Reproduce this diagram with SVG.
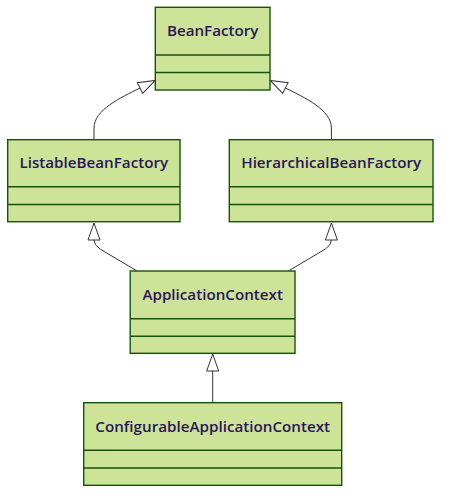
<svg xmlns="http://www.w3.org/2000/svg" width="449" height="502" viewBox="0 0 449 502">
<style>
.box{fill:#cde498;stroke:#13540c;stroke-width:1.4}
.div{stroke:#13540c;stroke-width:1.4}
.t{font-family:"Open Sans","DejaVu Sans",sans-serif;font-weight:600;font-size:15.2px;fill:#2a1558;text-anchor:middle;dominant-baseline:central}
.c{fill:none;stroke:#333;stroke-width:1}
</style>
<defs>
<marker id="ext" markerUnits="userSpaceOnUse" markerWidth="20" markerHeight="16" refX="1" refY="7" orient="auto" overflow="visible">
<path d="M1,1 V13 L18,7 Z" fill="#fff" stroke="#333" stroke-width="1"/>
</marker>
</defs>
<rect width="449" height="502" fill="#fff"/>
<g id="connectors">
<path class="c" d="M94 140 L94 128 C94 110 120 98 140 88" marker-end="url(#ext)"/>
<path class="c" d="M331.4 140 L331.4 128 C331.4 110 305.4 98 285.4 88" marker-end="url(#ext)"/>
<path class="c" d="M137 271 L100 249 Q94 245 94 240" marker-end="url(#ext)"/>
<path class="c" d="M288.4 271 L325.4 249 Q331.4 245 331.4 240" marker-end="url(#ext)"/>
<path class="c" d="M212.7 403 L212.7 371" marker-end="url(#ext)"/>
</g>
<g id="BeanFactory">
<rect class="box" x="155.3" y="7.3" width="114.7" height="82.7"/>
<line class="div" x1="155.3" y1="55" x2="270" y2="55"/>
<line class="div" x1="155.3" y1="72.5" x2="270" y2="72.5"/>
<text class="t" x="212.7" y="29.7">BeanFactory</text>
</g>
<g id="ListableBeanFactory">
<rect class="box" x="7.7" y="139.7" width="172.3" height="82"/>
<line class="div" x1="7.7" y1="186.7" x2="180" y2="186.7"/>
<line class="div" x1="7.7" y1="204.5" x2="180" y2="204.5"/>
<text class="t" x="93.8" y="161.7">ListableBeanFactory</text>
</g>
<g id="HierarchicalBeanFactory">
<rect class="box" x="229.3" y="139.7" width="203.7" height="82"/>
<line class="div" x1="229.3" y1="186.7" x2="433" y2="186.7"/>
<line class="div" x1="229.3" y1="204.5" x2="433" y2="204.5"/>
<text class="t" x="331.2" y="161.7">HierarchicalBeanFactory</text>
</g>
<g id="ApplicationContext">
<rect class="box" x="130.2" y="271" width="164.8" height="82.3"/>
<line class="div" x1="130.2" y1="318.7" x2="295" y2="318.7"/>
<line class="div" x1="130.2" y1="336.3" x2="295" y2="336.3"/>
<text class="t" x="212.7" y="293.7">ApplicationContext</text>
</g>
<g id="ConfigurableApplicationContext">
<rect class="box" x="83.7" y="402.7" width="258" height="82.6"/>
<line class="div" x1="83.7" y1="450.3" x2="341.7" y2="450.3"/>
<line class="div" x1="83.7" y1="468" x2="341.7" y2="468"/>
<text class="t" x="212.7" y="425.7">ConfigurableApplicationContext</text>
</g>
</svg>
